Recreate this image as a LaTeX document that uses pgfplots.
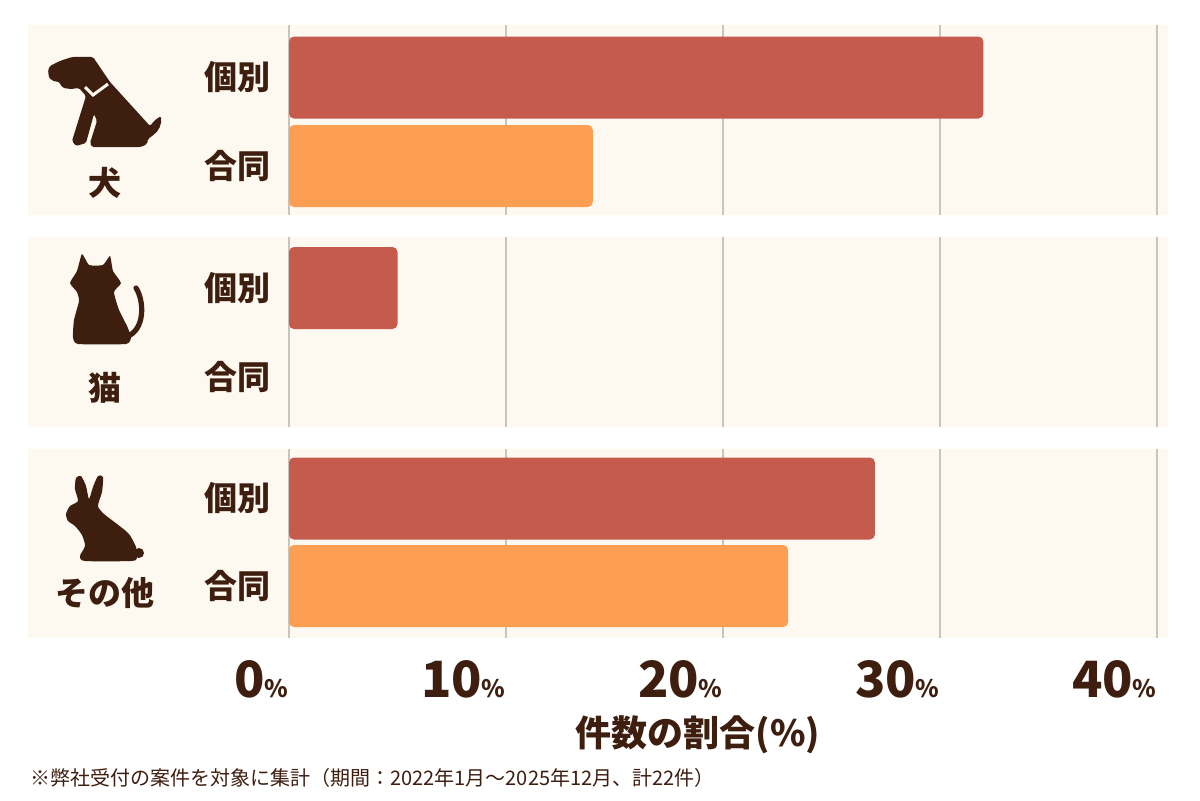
\documentclass[border=0pt]{standalone}
\usepackage{pgfplots}
\pgfplotsset{compat=1.18}
\usepackage{fontspec}
\setmainfont{Noto Sans CJK JP}
\definecolor{panel}{HTML}{FDF9F0}
\definecolor{gridc}{HTML}{C9C4BD}
\definecolor{cA}{HTML}{C55B4C}
\definecolor{cB}{HTML}{FC9F52}
\definecolor{txt}{HTML}{3E1E0F}
\begin{document}
\begin{tikzpicture}
\begin{scope}[x=0.5pt,y=-0.5pt,yshift=400pt]
\fill[white] (0,0) rectangle (1200,800);
\fill[panel] (28,25) rectangle (1168,215);
\fill[panel] (28,237) rectangle (1168,427);
\fill[panel] (28,449) rectangle (1168,638);
\end{scope}
\begin{axis}[at={(0,0)}, anchor=south west, scale only axis,
  width=600pt, height=400pt,
  xmin=-13.3180, xmax=41.9816, ymin=0, ymax=800, y dir=reverse,
  hide axis, clip=false]
\pgfplotsinvokeforeach{0,10,20,30,40}{
  \draw[gridc, line width=0.55pt] (axis cs:#1,25) -- (axis cs:#1,215);
  \draw[gridc, line width=0.55pt] (axis cs:#1,237) -- (axis cs:#1,427);
  \draw[gridc, line width=0.55pt] (axis cs:#1,449) -- (axis cs:#1,638);
}
% 個別
\addplot[xbar, bar shift=0pt, bar width=82, fill=cA, draw=none, rounded corners=2.5pt]
  coordinates {(32,77.5) (5,288) (27,498.5)};
% 合同
\addplot[xbar, bar shift=0pt, bar width=82, fill=cB, draw=none, rounded corners=2.5pt]
  coordinates {(14,166) (23,586)};
\pgfplotsinvokeforeach{0,10,20,30,40}{
  \node[anchor=base east, text=txt, inner sep=0pt] at (axis cs:#1,697)
    {\fontsize{25}{25}\selectfont\bfseries #1\fontsize{12}{12}\selectfont\%};
}
\end{axis}
\begin{scope}[x=0.5pt,y=-0.5pt,yshift=400pt]
% category labels
\foreach \yy in {77.5,288,498.5} {
  \node[text=txt, font=\fontsize{16.5}{16.5}\selectfont\bfseries] at (237,\yy) {個別};
}
\foreach \yy in {166,377,586} {
  \node[text=txt, font=\fontsize{16.5}{16.5}\selectfont\bfseries] at (237,\yy) {合同};
}
\node[text=txt, font=\fontsize{16.5}{16.5}\selectfont\bfseries] at (105,183) {犬};
\node[text=txt, font=\fontsize{16.5}{16.5}\selectfont\bfseries] at (105,388) {猫};
\node[text=txt, font=\fontsize{16.5}{16.5}\selectfont\bfseries] at (105,593) {その他};
% axis title
\node[text=txt, font=\fontsize{18}{18}\selectfont\bfseries] at (698,735) {件数の割合(\%)};
% footnote
\node[text=txt, anchor=west, inner sep=0pt, font=\fontsize{10}{10}\selectfont] at (30,778)
  {※弊社受付の案件を対象に集計（期間：2022年1月～2025年12月、計22件）};
% dog icon
\fill[txt, rounded corners=0.8pt] (50,66) -- (60,61) -- (72,57) -- (93,57) -- (110,82)
  -- (150,126) -- (155,120) -- (161,116) .. controls (162,124) and (159,131) .. (152,136)
  -- (148,139) -- (147,144) -- (141,147) -- (92,147) -- (90,143) -- (97,121)
  -- (94,114) -- (86,143) -- (76,146) -- (72,141) -- (86,96) -- (79,88)
  -- (71,89) -- (63,88) -- (58,81) -- (55,82) -- (49,78) -- (48,70) -- cycle;
\draw[panel, line width=1.5pt, line cap=butt, line join=miter] (85,87) -- (93,95) -- (108,84);
% cat icon
\fill[txt] plot[smooth cycle, tension=0.3] coordinates {
  (82,254) (89,265) (103,265) (110,256) (113,271) (121,283) (114,292) (119,310)
  (127,326) (131,337) (126,344) (78,344) (73,337) (74,320) (79,301) (77,292) (70,283) (77,271)};
\draw[txt, line width=2.6pt, line cap=round] (126,337) .. controls (146,330) and (144,300) .. (136,288);
% rabbit icon
\fill[txt] plot[smooth cycle, tension=0.4] coordinates {
  (66,514) (70,506) (78,501) (75,489) (76,478) (81,476) (86,486) (89,499)
  (93,487) (98,476) (103,477) (102,492) (98,506) (104,514) (117,524) (129,534)
  (136,547) (137,558) (131,561) (85,561) (80,556) (85,546) (82,535) (75,526) (68,521)};
\fill[txt] (139,553) circle (5);
\end{scope}
\end{tikzpicture}
\end{document}
